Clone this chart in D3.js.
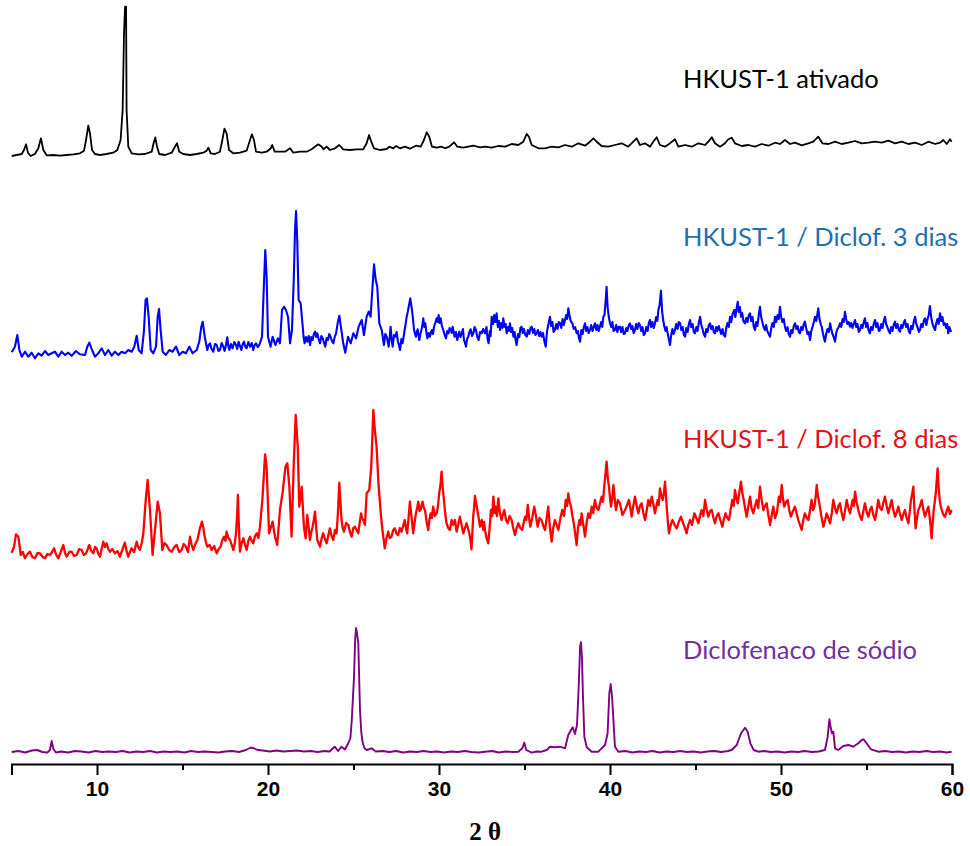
<!DOCTYPE html>
<html>
<head>
<meta charset="utf-8">
<script src="https://cdn.jsdelivr.net/npm/d3@7"></script>
<style>
  html, body { margin: 0; padding: 0; background: #fff; }
  svg { display: block; }
</style>
</head>
<body>
<svg id="chart" width="970" height="846"></svg>
<script>
// X-ray diffraction patterns, stacked with a vertical offset per sample.
const twoThetaDomain = [5, 60];
const majorTicks = [10, 20, 30, 40, 50, 60];
const minorTicks = [5, 15, 25, 35, 45, 55];
const xTitle = "2 θ";

const seriesNames = [
  "HKUST-1 ativado",
  "HKUST-1 / Diclof. 3 dias",
  "HKUST-1 / Diclof. 8 dias",
  "Diclofenaco de sódio"
];
const seriesOffsets = [6070, 4070, 2060, 110];
const lineColors = ["#000000", "#0000ff", "#ff0000", "#800080"];
const labelColors = ["#000000", "#1f6fb2", "#e3121a", "#7030a0"];

// [2θ, intensity (a.u.)]
const ativado = [[5.01,10],[5.3,20],[5.6,30],[5.73,70],[5.85,127],[5.96,43],[6.12,10],[6.37,30],[6.57,87],[6.72,187],[6.86,70],[7.06,17],[7.45,20],[7.84,13],[8.23,20],[8.62,27],[9.0,37],[9.24,63],[9.36,170],[9.49,313],[9.59,237],[9.71,70],[9.88,30],[10.18,20],[10.56,30],[10.95,43],[11.19,70],[11.38,170],[11.5,470],[11.58,1237],[11.64,1503],[11.7,1503],[11.73,470],[11.83,103],[12.03,37],[12.42,27],[12.81,30],[13.2,53],[13.31,137],[13.41,197],[13.51,103],[13.64,30],[13.98,20],[14.37,43],[14.56,103],[14.68,137],[14.81,53],[15.05,30],[15.44,20],[15.83,30],[16.22,43],[16.41,63],[16.51,93],[16.65,37],[16.9,30],[17.19,53],[17.33,170],[17.45,283],[17.58,237],[17.72,70],[17.97,37],[18.36,43],[18.75,63],[18.95,170],[19.06,227],[19.18,170],[19.3,53],[19.63,43],[19.92,53],[20.16,87],[20.25,120],[20.39,53],[20.7,53],[21.0,53],[21.29,87],[21.48,43],[21.87,53],[22.26,53],[22.55,77],[22.94,127],[23.14,103],[23.24,77],[23.43,103],[23.62,70],[23.92,87],[24.17,120],[24.4,77],[24.79,70],[25.18,77],[25.57,77],[25.77,137],[25.91,220],[26.04,153],[26.2,87],[26.55,70],[26.94,80],[27.1,103],[27.33,87],[27.48,110],[27.72,87],[28.01,103],[28.3,83],[28.65,113],[28.93,103],[29.12,170],[29.28,247],[29.43,203],[29.59,103],[29.86,93],[30.16,103],[30.35,87],[30.6,103],[30.88,147],[31.07,103],[31.42,93],[31.71,103],[32.01,113],[32.4,97],[32.69,103],[33.08,93],[33.47,110],[33.86,103],[34.25,130],[34.64,120],[34.93,153],[35.13,230],[35.26,203],[35.42,120],[35.81,87],[36.2,87],[36.59,103],[36.98,97],[37.37,120],[37.76,103],[38.15,137],[38.54,113],[38.83,153],[39.03,187],[39.22,153],[39.51,110],[39.9,103],[40.29,120],[40.68,137],[41.07,103],[41.36,153],[41.56,187],[41.75,120],[42.05,137],[42.34,103],[42.53,153],[42.73,197],[42.92,120],[43.22,103],[43.51,137],[43.8,177],[44.0,103],[44.39,120],[44.78,103],[45.17,137],[45.56,120],[45.75,153],[45.95,197],[46.14,137],[46.43,103],[46.73,137],[46.92,177],[47.12,193],[47.31,137],[47.7,110],[48.09,120],[48.48,103],[48.87,130],[49.26,113],[49.65,143],[49.94,130],[50.23,170],[50.53,130],[50.82,143],[51.21,117],[51.6,137],[51.89,153],[52.18,203],[52.42,137],[52.77,130],[53.16,153],[53.55,130],[53.94,143],[54.33,160],[54.72,137],[55.11,143],[55.5,153],[55.89,143],[56.28,163],[56.67,137],[57.06,153],[57.45,130],[57.84,143],[58.23,120],[58.62,153],[59.01,130],[59.3,143],[59.49,170],[59.69,130],[59.88,177],[59.98,153]];

const diclof3dias = [[5.01,47],[5.2,103],[5.34,220],[5.46,70],[5.6,3],[5.79,53],[5.98,3],[6.18,43],[6.37,-13],[6.57,37],[6.76,13],[6.96,60],[7.15,20],[7.35,37],[7.54,53],[7.74,3],[7.93,53],[8.13,20],[8.32,43],[8.52,13],[8.77,60],[9.0,27],[9.3,20],[9.43,103],[9.55,143],[9.71,70],[9.88,3],[10.08,37],[10.27,87],[10.47,20],[10.66,70],[10.86,13],[11.05,53],[11.25,20],[11.44,53],[11.64,37],[11.83,70],[12.03,53],[12.18,103],[12.32,213],[12.44,70],[12.61,37],[12.75,270],[12.84,570],[12.92,587],[13.02,403],[13.14,70],[13.29,37],[13.45,103],[13.55,403],[13.63,480],[13.72,270],[13.84,53],[14.03,20],[14.23,70],[14.42,53],[14.62,103],[14.81,20],[15.01,53],[15.2,37],[15.4,103],[15.59,37],[15.83,70],[15.98,153],[16.1,303],[16.18,353],[16.3,203],
  [16.45,70],[16.53,120],[16.61,137],[16.7,80],[16.8,53],[16.9,130],[17.0,120],[17.1,60],[17.19,70],[17.29,140],[17.39,103],[17.46,60],[17.52,103],[17.57,150],[17.62,197],[17.68,110],[17.74,70],[17.83,130],[17.93,87],[18.03,150],[18.13,120],[18.2,80],[18.28,153],[18.36,110],[18.44,70],[18.52,130],[18.6,153],[18.68,100],[18.75,87],[18.85,150],[18.95,103],[19.05,140],[19.14,70],[19.22,120],[19.3,137],[19.4,100],[19.49,120],[19.57,160],[19.65,203],
  [19.75,670],[19.84,1070],[19.92,803],[20.0,203],[20.15,103],[20.27,203],[20.43,120],[20.58,187],[20.7,137],[20.82,470],[20.94,503],[21.05,470],[21.17,403],[21.29,137],[21.4,270],[21.5,737],[21.58,1270],[21.64,1460],[21.71,1170],[21.79,570],[21.91,537],
  [22.03,303],[22.08,200],[22.14,137],[22.22,200],[22.3,153],[22.38,210],[22.46,120],[22.53,200],[22.61,170],[22.68,230],[22.75,253],[22.82,200],[22.88,237],[22.96,180],[23.04,137],[23.12,210],[23.2,187],[23.28,140],[23.35,103],[23.43,190],[23.51,170],[23.58,230],[23.66,203],[23.74,160],[23.82,137],[23.9,200],[23.98,237],
  [24.09,353],[24.17,413],[24.29,270],[24.4,137],[24.52,43],[24.68,203],[24.84,137],[24.99,237],[25.15,187],[25.3,303],[25.48,370],[25.61,220],[25.77,403],[25.89,453],[26.0,403],[26.1,670],[26.2,927],[26.3,770],[26.39,703],[26.51,337],[26.65,270],
  [26.78,120],[26.86,230],[26.94,203],[27.0,160],[27.06,103],[27.12,200],[27.17,303],[27.23,180],[27.29,103],[27.37,220],[27.45,203],[27.52,250],[27.6,153],[27.66,120],[27.72,70],[27.8,180],[27.87,137],[27.93,200],[27.99,270],[28.05,330],[28.11,403],[28.17,450],[28.23,503],[28.32,587],[28.42,470],[28.48,380],[28.54,270],[28.6,230],[28.65,203],[28.7,250],[28.75,277],[28.8,220],[28.85,170],[28.91,230],[28.97,270],[29.03,320],[29.08,387],[29.14,300],[29.2,337],[29.26,250],[29.32,187],[29.4,240],[29.47,203],[29.53,250],[29.59,270],[29.65,230],[29.71,303],[29.78,340],[29.86,387],[29.92,350],[29.98,420],[30.04,340],[30.1,387],[30.17,310],[30.25,270],[30.33,220],[30.41,187],[30.48,260],[30.56,237],[30.62,290],[30.68,277],[30.74,240],[30.8,303],[30.86,250],[30.91,203],[30.99,250],[31.07,170],[31.13,220],[31.19,253],[31.26,200],[31.33,237],[31.4,280],[31.46,170],[31.52,140],[31.58,103],[31.64,180],[31.71,203],[31.78,250],[31.85,277],[31.93,210],[32.01,237],[32.08,300],[32.16,270],[32.24,200],[32.32,170],[32.4,250],[32.49,237],[32.58,280],
  [32.69,237],[32.78,300],[32.84,180],[32.9,137],[32.97,260],[33.02,210],[33.08,403],[33.16,330],[33.23,420],[33.3,350],[33.37,437],[33.44,300],[33.5,360],[33.57,270],[33.63,340],[33.7,290],[33.76,387],[33.83,300],[33.9,330],[33.96,237],[34.03,300],[34.09,260],[34.15,337],[34.22,250],[34.28,290],[34.35,203],[34.42,250],[34.48,170],[34.54,120],[34.62,230],[34.7,200],[34.76,290],[34.83,303],[34.9,240],[34.97,280],[35.05,220],[35.13,203],[35.2,270],[35.28,230],[35.35,290],[35.42,303],[35.5,240],[35.57,280],[35.64,220],[35.71,237],[35.78,270],[35.86,210],[35.93,250],[36.0,203],[36.08,240],[36.16,160],[36.24,103],[36.32,260],[36.4,330],[36.49,403],[36.56,310],[36.63,350],[36.7,250],[36.78,270],[36.85,330],[36.93,280],[37.0,350],[37.08,337],[37.15,290],[37.23,380],[37.3,320],[37.37,370],[37.44,420],[37.5,380],[37.56,487],[37.63,420],[37.7,360],[37.8,337],[37.88,280],[37.96,300],[38.05,237],[38.12,260],[38.18,190],[38.25,153],[38.32,270],[38.4,230],[38.47,300],[38.54,337],[38.61,260],[38.68,300],[38.75,240],[38.83,270],[38.9,320],[38.98,260],[39.05,300],[39.12,337],[39.2,270],[39.27,320],[39.34,260],[39.41,303],[39.48,350],[39.55,300],[39.61,403],[39.68,420],[39.74,550],[39.8,703],[39.86,500],[39.93,400],[40.0,337],[40.07,300],[40.14,350],[40.21,260],[40.29,270],[40.36,320],[40.43,250],[40.5,300],[40.58,303],[40.65,250],[40.73,300],[40.8,230],[40.88,237],[40.95,290],[41.02,260],[41.1,320],[41.17,337],[41.24,280],[41.31,310],[41.38,240],[41.46,270],[41.53,330],[41.6,280],[41.68,340],[41.75,320],[41.83,260],[41.9,300],[41.97,220],[42.05,237],[42.12,300],[42.2,260],[42.27,340],[42.34,370],[42.41,300],[42.48,350],[42.56,290],[42.63,337],[42.7,400],[42.77,360],[42.83,470],[42.9,520],[42.98,663],[43.05,450],[43.12,360],[43.18,303],[43.25,260],[43.31,300],[43.37,237],[43.44,180],[43.51,120],[43.58,220],[43.65,280],[43.72,230],[43.8,270],[43.87,330],[43.95,280],[44.02,350],[44.1,337],[44.17,270],[44.25,300],[44.32,220],[44.39,203],[44.46,290],[44.54,250],[44.61,330],[44.68,370],[44.75,300],[44.83,330],[44.9,250],[44.97,237],[45.05,300],[45.12,260],[45.2,350],[45.27,403],[45.34,320],[45.41,280],[45.48,230],[45.56,203],[45.63,280],[45.7,250],[45.78,320],[45.85,337],[45.92,280],[46.0,310],[46.07,250],[46.14,237],[46.21,300],[46.28,260],[46.36,310],[46.43,270],[46.5,230],[46.58,280],[46.65,220],[46.73,203],[46.8,290],[46.87,340],[46.95,300],[47.02,403],[47.09,350],[47.17,430],[47.27,470],[47.33,400],[47.4,480],[47.47,553],[47.53,450],[47.6,500],[47.66,403],[47.73,440],[47.8,360],[47.9,337],[47.97,390],[48.04,350],[48.12,420],[48.19,437],[48.26,360],[48.33,400],[48.41,300],[48.48,270],[48.55,350],[48.62,310],[48.7,420],[48.77,503],[48.84,400],[48.91,350],[48.98,300],[49.06,270],[49.13,320],[49.2,260],[49.28,230],[49.36,203],[49.43,290],[49.5,340],[49.58,300],[49.65,403],[49.72,350],[49.8,420],[49.87,380],[49.94,503],[50.01,400],[50.08,350],[50.16,380],[50.23,303],[50.3,260],[50.38,300],[50.45,230],[50.53,203],[50.6,270],[50.67,240],[50.75,310],[50.82,337],[50.9,280],[50.97,310],[51.04,250],[51.11,237],[51.18,300],[51.26,270],[51.33,330],[51.4,353],[51.47,290],[51.55,230],[51.62,250],[51.7,170],[51.77,260],[51.84,300],[51.92,350],[51.99,403],[52.06,360],[52.12,420],[52.18,487],[52.25,380],[52.32,330],[52.38,303],[52.45,240],[52.5,200],[52.57,153],[52.64,230],[52.72,280],[52.8,250],[52.87,337],[52.94,280],[53.01,230],[53.08,200],[53.16,153],[53.23,240],[53.3,280],[53.38,300],[53.45,337],[53.52,300],[53.6,380],[53.67,350],[53.74,453],[53.81,380],[53.88,330],[53.96,350],[54.03,303],[54.1,340],[54.18,290],[54.25,330],[54.33,370],[54.4,300],[54.47,330],[54.55,250],[54.62,270],[54.69,320],[54.76,290],[54.84,350],[54.91,387],[54.98,300],[55.05,340],[55.13,260],[55.2,237],[55.27,300],[55.35,270],[55.42,330],[55.5,370],[55.57,300],[55.64,340],[55.72,260],[55.79,270],[55.86,330],[55.93,290],[56.01,360],[56.08,403],[56.15,330],[56.22,300],[56.3,260],[56.37,237],[56.44,300],[56.52,260],[56.59,320],[56.67,353],[56.74,290],[56.81,330],[56.89,270],[56.96,253],[57.03,320],[57.1,290],[57.18,340],[57.25,370],[57.32,300],[57.4,330],[57.47,260],[57.54,237],[57.61,310],[57.69,280],[57.76,350],[57.84,403],[57.91,330],[57.98,300],[58.06,250],[58.13,270],[58.2,330],[58.28,300],[58.35,360],[58.42,387],[58.5,320],[58.57,380],[58.64,420],[58.71,510],[58.78,400],[58.86,330],[58.93,300],[59.01,270],[59.08,340],[59.15,380],[59.22,330],[59.3,437],[59.37,360],[59.44,400],[59.52,320],[59.59,337],[59.66,290],[59.72,330],[59.78,237],[59.85,300],[59.92,260],[59.98,253]];

const diclof8dias = [[5.01,53],[5.15,113],[5.26,237],[5.40,213],
  [5.54,30],[5.66,60],[5.79,-3],[5.93,40],[6.08,63],[6.22,10],[6.37,-3],[6.52,50],[6.67,47],[6.82,10],[6.96,-3],[7.1,40],[7.25,30],[7.37,60],[7.49,97],[7.62,30],[7.74,-3],[7.88,60],[8.03,130],[8.13,50],[8.23,13],[8.38,60],[8.52,63],[8.66,20],[8.81,30],[8.96,90],[9.1,80],[9.23,30],[9.36,47],[9.46,90],[9.55,130],[9.67,70],[9.79,47],[9.88,110],[9.98,97],[10.08,40],[10.18,13],[10.28,100],[10.37,163],[10.46,110],[10.56,147],[10.66,90],[10.76,63],[10.9,90],[11.05,47],[11.2,70],[11.34,13],[11.48,80],[11.63,153],[11.73,70],[11.83,13],[11.93,60],[12.02,97],[12.17,60],[12.32,163],[12.41,110],[12.51,80],[12.62,150],[12.71,247],
  [12.85,580],[12.96,780],[13.1,480],[13.25,30],[13.41,313],[13.55,563],[13.68,447],
  [13.82,80],[13.95,150],[14.07,130],[14.22,80],[14.37,63],[14.52,110],[14.66,130],[14.8,60],[14.95,80],[15.07,140],[15.2,113],[15.32,60],[15.44,213],[15.54,130],[15.63,80],[15.75,140],[15.87,180],[16.02,297],[16.14,363],[16.22,300],[16.3,213],[16.38,150],[16.45,113],[16.58,130],[16.71,80],[16.85,120],[17.0,47],[17.12,90],[17.23,113],[17.33,180],[17.43,213],[17.51,170],[17.58,263],[17.68,200],[17.78,180],[17.88,130],[17.97,80],[18.06,150],[18.13,247],[18.2,450],[18.24,630],[18.3,300],[18.36,63],[18.46,150],[18.56,197],[18.66,130],[18.75,80],[18.85,170],[18.95,213],[19.05,170],[19.14,147],[19.24,220],[19.34,247],[19.44,200],[19.53,313],
  [19.67,580],[19.83,1037],[19.92,913],[20.06,247],[20.27,363],[20.41,213],[20.54,130],[20.7,480],[20.86,663],[21.02,913],[21.13,947],[21.25,713],[21.38,213],[21.5,913],[21.62,1430],[21.74,1113],[21.83,513],[21.97,713],[22.1,313],[22.2,197],[22.3,430],[22.38,300],[22.45,180],[22.53,260],[22.61,313],[22.68,380],[22.75,463],[22.82,300],[22.88,180],[22.96,150],[23.04,113],[23.14,200],[23.23,247],[23.33,190],[23.43,147],[23.52,220],[23.62,297],[23.72,220],[23.82,180],[23.92,280],[24.01,247],[24.09,450],[24.17,753],[24.24,550],[24.3,380],[24.37,300],[24.44,263],[24.57,350],[24.7,330],[24.79,260],[24.89,213],[24.99,300],[25.09,313],[25.18,280],[25.28,247],[25.36,350],[25.44,447],[25.5,400],[25.57,380],[25.67,330],[25.77,647],[25.92,680],[26.04,913],[26.16,1480],[26.25,1280],[26.35,1113],[26.46,747],[26.58,480],[26.66,330],
  [26.74,213],[26.79,150],[26.83,97],[26.93,200],[27.03,263],[27.12,200],[27.22,213],[27.32,280],[27.42,297],[27.52,240],[27.61,230],[27.71,300],[27.81,263],[27.9,320],[28.0,380],[28.07,300],[28.14,247],[28.22,400],[28.3,563],[28.4,400],[28.49,247],[28.57,350],[28.65,447],[28.72,500],[28.79,563],[28.86,470],[28.92,480],[28.98,530],[29.04,563],[29.11,500],[29.18,480],[29.28,360],[29.37,280],[29.44,380],[29.51,447],[29.58,400],[29.66,513],[29.76,420],[29.86,447],[29.94,520],[30.01,647],[30.08,720],[30.15,863],[30.22,700],[30.29,580],[30.36,450],[30.44,347],[30.54,300],[30.64,280],[30.74,380],[30.83,330],[30.93,380],[31.03,263],[31.12,330],[31.22,413],[31.32,330],[31.42,247],[31.52,300],[31.61,347],[31.69,300],[31.77,247],[31.84,180],[31.9,87],[31.95,250],[32.0,413],[32.05,500],[32.1,620],[32.17,550],[32.24,480],[32.32,400],[32.4,313],[32.5,380],[32.59,280],
  [32.64,360],[32.69,280],[32.78,200],[32.88,147],[32.96,300],[33.04,480],[33.11,420],[33.18,613],[33.25,450],[33.31,513],[33.39,420],[33.47,597],[33.56,450],[33.66,380],[33.74,440],[33.82,480],[33.92,380],[34.02,347],[34.13,420],[34.25,380],[34.34,300],[34.44,230],[34.54,300],[34.64,347],[34.75,300],[34.87,280],[34.95,350],[35.03,413],[35.11,380],[35.19,530],[35.27,400],[35.34,313],[35.45,400],[35.57,513],[35.67,420],[35.77,313],[35.88,400],[36.0,380],[36.1,320],[36.2,280],[36.3,400],[36.39,513],[36.49,300],[36.59,163],[36.68,300],[36.78,380],[36.88,330],[36.98,280],[37.1,400],[37.21,480],[37.31,420],[37.41,580],[37.49,520],[37.56,647],[37.64,560],[37.72,513],[37.8,420],[37.88,347],[37.96,250],[38.05,130],[38.13,300],[38.21,380],[38.28,330],[38.34,447],[38.44,330],[38.54,213],[38.63,350],[38.73,447],[38.83,400],[38.93,513],[39.02,450],[39.12,580],[39.22,500],[39.32,480],[39.42,550],[39.51,613],[39.59,560],[39.67,730],[39.74,850],[39.8,963],[39.87,800],[39.94,713],[40.0,600],[40.06,513],[40.13,600],[40.2,730],[40.27,600],[40.35,480],[40.46,580],[40.58,547],[40.73,430],[40.88,480],[41.0,530],[41.11,580],[41.19,500],[41.27,413],[41.36,520],[41.46,613],[41.56,520],[41.66,447],[41.75,520],[41.85,547],[41.95,450],[42.05,380],[42.15,480],[42.24,580],[42.34,520],[42.44,613],[42.53,540],[42.63,447],[42.71,520],[42.79,580],[42.85,530],[42.92,697],[43.0,620],[43.08,580],[43.15,650],[43.22,763],[43.28,600],[43.33,480],[43.39,350],[43.45,247],[43.55,330],[43.65,380],[43.78,330],[43.9,297],[44.02,360],[44.15,413],[44.25,360],[44.35,313],[44.42,280],[44.48,247],[44.58,330],[44.68,380],[44.8,330],[44.93,447],[45.05,400],[45.17,347],[45.26,420],[45.36,480],[45.46,420],[45.56,580],[45.66,480],[45.75,413],[45.85,470],[45.95,480],[46.05,400],[46.14,347],[46.24,420],[46.34,447],[46.45,380],[46.57,313],[46.66,390],[46.76,447],[46.86,400],[46.96,380],[47.05,480],[47.15,580],[47.23,520],[47.31,680],[47.39,600],[47.47,547],[47.56,650],[47.66,763],[47.74,650],[47.82,580],[47.9,500],[47.99,413],[48.09,520],[48.19,613],[48.28,500],[48.38,447],[48.48,520],[48.58,580],[48.67,500],[48.77,713],[48.87,580],[48.97,480],[49.06,520],[49.16,547],[49.26,430],[49.36,330],[49.45,420],[49.55,513],[49.65,400],[49.75,447],[49.81,520],[49.88,613],[49.96,560],[50.04,730],[50.11,600],[50.19,513],[50.29,560],[50.39,580],[50.48,480],[50.58,413],[50.7,470],[50.82,513],[50.92,440],[51.01,380],[51.11,330],[51.21,280],[51.3,380],[51.4,447],[51.5,400],[51.6,380],[51.7,480],[51.79,580],[51.87,480],[51.95,513],[52.02,600],[52.09,730],[52.16,620],[52.24,547],[52.36,420],[52.48,313],[52.58,380],[52.67,447],[52.77,400],[52.87,347],[52.97,450],[53.06,580],[53.16,500],[53.26,447],[53.36,520],[53.45,547],[53.55,450],[53.65,380],[53.75,480],[53.84,580],[53.94,500],[54.04,447],[54.12,520],[54.19,580],[54.26,520],[54.33,663],[54.42,560],[54.52,480],[54.62,420],[54.72,380],[54.82,470],[54.91,547],[55.01,460],[55.11,413],[55.2,480],[55.3,513],[55.4,430],[55.5,380],[55.6,480],[55.69,580],[55.79,500],[55.89,480],[55.98,550],[56.08,613],[56.18,520],[56.28,447],[56.38,520],[56.47,580],[56.57,480],[56.67,413],[56.77,460],[56.86,513],[56.96,440],[57.06,380],[57.16,440],[57.25,480],[57.35,400],[57.45,347],[57.52,450],[57.6,580],[57.67,640],[57.74,713],[57.8,500],[57.87,297],[57.95,400],[58.03,480],[58.13,520],[58.23,580],[58.33,480],[58.42,413],[58.52,470],[58.62,513],[58.7,400],[58.76,300],[58.81,197],[58.87,350],[58.93,480],[58.99,560],[59.05,647],[59.1,760],[59.16,897],[59.22,700],[59.28,580],[59.34,520],[59.4,480],[59.5,430],[59.59,413],[59.69,470],[59.78,513],[59.88,440],[59.98,480]];

const diclofenacoSodio = [[5.01,10],[5.4,20],[5.8,5],[6.2,25],[6.5,30],[6.8,10],[7.1,5],[7.25,30],[7.35,120],[7.45,40],[7.6,5],[7.9,15],[8.3,5],[8.7,20],[9.1,15],[9.5,5],[9.9,20],[10.3,10],[10.7,15],[11.1,10],[11.5,20],[11.9,5],[12.3,15],[12.7,10],[13.1,20],[13.5,5],[13.9,15],[14.3,10],[14.7,15],[15.1,5],[15.5,20],[15.9,10],[16.3,15],[16.7,10],[17.1,5],[17.5,15],[17.9,20],[18.3,10],[18.7,30],[19.0,55],[19.2,45],[19.4,30],[19.7,25],[20.1,15],[20.5,25],[20.9,15],[21.3,20],[21.7,25],[22.1,15],[22.5,20],[22.9,10],[23.3,20],[23.6,15],[23.9,63],[24.1,20],[24.3,63],[24.5,35],[24.7,100],[24.82,150],[24.9,330],[25.03,760],[25.1,1150],[25.15,1250],[25.2,1200],[25.28,1100],[25.38,430],[25.46,200],[25.54,100],[25.65,45],[25.77,30],[26.06,47],[26.3,15],[26.7,20],[27.1,10],[27.5,20],[27.9,5],[28.3,15],[28.7,10],[29.1,20],[29.5,10],[29.9,15],[30.3,5],[30.7,15],[31.1,10],[31.5,20],[31.9,10],[32.3,5],[32.69,13],[33.1,20],[33.5,5],[33.9,15],[34.3,10],[34.64,13],[34.87,47],[34.99,103],[35.1,30],[35.42,3],[35.7,15],[36.0,13],[36.3,30],[36.49,63],[36.78,57],[37.08,63],[37.37,47],[37.56,180],[37.72,230],[37.82,257],[37.95,190],[38.07,280],[38.17,663],[38.25,1063],[38.3,1107],[38.36,963],[38.42,563],[38.5,163],[38.64,57],[38.93,13],[39.32,13],[39.71,80],[39.86,197],[39.96,597],[40.04,690],[40.12,563],[40.2,330],[40.29,63],[40.49,13],[40.9,20],[41.3,5],[41.7,15],[42.1,10],[42.5,20],[42.9,5],[43.3,15],[43.7,10],[44.1,20],[44.5,10],[44.9,15],[45.3,5],[45.7,15],[46.1,20],[46.5,10],[46.9,20],[47.12,30],[47.41,80],[47.66,197],[47.9,253],[48.05,213],[48.21,97],[48.4,30],[48.67,13],[49.0,20],[49.4,10],[49.8,15],[50.2,5],[50.6,15],[51.0,10],[51.4,20],[51.8,10],[52.2,15],[52.57,30],[52.73,163],[52.83,337],[52.9,263],[52.98,197],[53.06,213],[53.16,47],[53.35,30],[53.65,70],[53.94,80],[54.23,63],[54.52,97],[54.72,130],[54.83,137],[55.0,97],[55.26,37],[55.69,13],[56.1,20],[56.5,10],[56.9,15],[57.3,5],[57.7,15],[58.1,10],[58.5,20],[58.9,10],[59.3,15],[59.7,5],[59.98,13]];

const patterns = [ativado, diclof3dias, diclof8dias, diclofenacoSodio];

const svg = d3.select("#chart");
const margin = { left: 11.5, right: 18, axisY: 764 };

const x = d3.scaleLinear().domain(twoThetaDomain).range([margin.left, 970 - margin.right]);
const y = d3.scaleLinear().domain([0, 7640]).range([margin.axisY, 0]);

const line = d3.line()
  .x(d => x(d[0]))
  .y(d => y(d[1]));

const lineWidths = [1.8, 2.1, 2.3, 1.9];

// traces
patterns.forEach((pts, i) => {
  const shifted = pts.map(([t, v]) => [t, v + seriesOffsets[i]]);
  svg.append("path")
    .datum(shifted)
    .attr("fill", "none")
    .attr("stroke", lineColors[i])
    .attr("stroke-width", lineWidths[i])
    .attr("stroke-linejoin", "round")
    .attr("d", line);
});

// series labels
const labelBaselines = [88, 246, 448, 659];
seriesNames.forEach((name, i) => {
  svg.append("text")
    .attr("x", 683)
    .attr("y", labelBaselines[i])
    .attr("fill", labelColors[i])
    .style("font-family", "Lato, 'Open Sans', sans-serif")
    .style("font-size", "25.5px")
    .text(name);
});

// bottom axis: major ticks with labels
const axisMajor = d3.axisBottom(x).tickValues(majorTicks).tickSize(11).tickPadding(6).tickFormat(d3.format("d"));
const gMajor = svg.append("g").attr("transform", `translate(0,${margin.axisY})`).call(axisMajor);
gMajor.select(".domain").attr("stroke", "#000").attr("stroke-width", 2);
gMajor.selectAll(".tick line").attr("stroke", "#000").attr("stroke-width", 2);
gMajor.selectAll(".tick text")
  .attr("fill", "#000")
  .style("font-family", "'Liberation Sans', Arial, sans-serif")
  .style("font-size", "21px")
  .style("font-weight", "bold");

// minor ticks
const axisMinor = d3.axisBottom(x).tickValues(minorTicks).tickSize(6).tickFormat("");
const gMinor = svg.append("g").attr("transform", `translate(0,${margin.axisY})`).call(axisMinor);
gMinor.select(".domain").remove();
gMinor.selectAll(".tick line").attr("stroke", "#000").attr("stroke-width", 2);

// axis title
svg.append("text")
  .attr("x", x(32.7))
  .attr("y", 840)
  .attr("text-anchor", "middle")
  .style("font-family", "'Liberation Serif', 'Times New Roman', serif")
  .style("font-size", "25px")
  .style("font-weight", "bold")
  .text(xTitle);
</script>
</body>
</html>
